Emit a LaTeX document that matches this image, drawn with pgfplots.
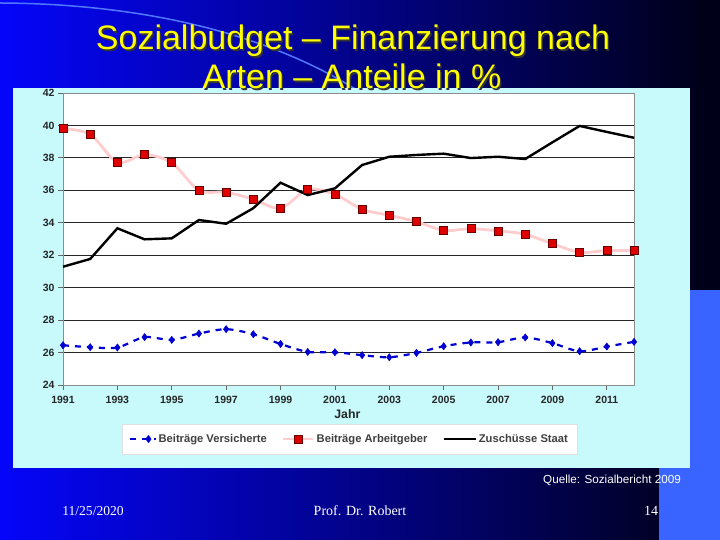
\documentclass[border=0pt]{standalone}
\usepackage{pgfplots}
\pgfplotsset{compat=1.18}
\usepackage{fontspec}
\setmainfont{Liberation Sans}
\newfontfamily\timesfont{Liberation Serif}
\definecolor{bgL}{RGB}{5,5,250}
\definecolor{bgM}{RGB}{0,0,185}
\definecolor{bgR}{RGB}{0,0,20}
\definecolor{chartbg}{RGB}{200,249,251}
\definecolor{lightblk}{RGB}{58,100,255}
\definecolor{ttl}{RGB}{255,255,0}
\definecolor{vblue}{RGB}{0,0,210}
\definecolor{pinkline}{RGB}{255,205,205}
\definecolor{sqred}{RGB}{222,0,0}
\definecolor{arcblue}{RGB}{80,120,255}
\pgfplotsset{
  legimgA/.style={legend image code/.code={\draw[mark repeat=2,mark phase=2,##1] plot coordinates {(0pt,0pt) (18pt,0pt) (25pt,0pt)};}},
  legimgB/.style={legend image code/.code={\draw[mark repeat=2,mark phase=2,##1] plot coordinates {(0pt,0pt) (15pt,0pt) (30pt,0pt)};}},
  legimgC/.style={legend image code/.code={\draw[##1] (0pt,0pt) -- (32pt,0pt);}},
}

\begin{document}
\begin{tikzpicture}
\useasboundingbox (0pt,0pt) rectangle (720pt,540pt);
\shade[left color=bgL, middle color=bgM, right color=bgR] (0pt,0pt) rectangle (720pt,540pt);
\fill[black!90!blue] (695pt,250pt) rectangle (720pt,540pt);
\draw[arcblue, line width=1.5pt] (0pt,537pt) .. controls (180pt,536pt) and (300pt,490pt) .. (372pt,440pt);
\fill[lightblk] (659pt,0pt) rectangle (720pt,250pt);
\fill[chartbg] (13pt,72pt) rectangle (690pt,452pt);

\begin{axis}[
  at={(63pt,155pt)}, anchor=south west,
  scale only axis, width=571pt, height=292pt,
  xmin=1991, xmax=2012, ymin=24, ymax=42,
  xtick={1991,1993,...,2011}, ytick={24,26,...,42},
  ymajorgrids, grid style={black!85, line width=0.8pt},
  axis background/.style={fill=white},
  axis line style={black!45, line width=0.8pt},
  tick align=outside, major tick length=5pt,
  xtick pos=left, ytick pos=left,
  tick style={black!60, line width=0.8pt},
  /pgf/number format/assume math mode=true,
  /pgf/number format/1000 sep={},
  tick label style={font=\bfseries\fontsize{10.5}{12}\selectfont, text=black!85},
  xticklabel style={yshift=-3pt},
  xlabel={Jahr},
  xlabel style={at={(axis description cs:0.498,-0.098)}, anchor=center, font=\bfseries\fontsize{12.3}{14}\selectfont, text=black!85},
  clip=false,
  legend columns=3,
  legend cell align=left,
  legend style={at={(0.502,-0.185)}, anchor=center, draw=black!12, fill=white,
    font=\bfseries\fontsize{11.2}{13}\selectfont, text=black!75,
    inner xsep=7pt, inner ysep=8pt,
    /tikz/every even column/.append style={column sep=13pt}},
]
\addplot[vblue, line width=2.2pt, dash pattern=on 6pt off 6pt, smooth, tension=0.5,
  mark=diamond*, mark size=3.6pt, mark options={solid, fill=vblue, draw=vblue, line width=0.5pt},
  legimgA]
coordinates {(1991,26.45)(1992,26.33)(1993,26.31)(1994,26.95)(1995,26.78)(1996,27.17)(1997,27.44)(1998,27.13)(1999,26.53)(2000,26.04)(2001,26.02)(2002,25.84)(2003,25.71)(2004,25.98)(2005,26.39)(2006,26.62)(2007,26.64)(2008,26.93)(2009,26.58)(2010,26.08)(2011,26.37)(2012,26.66)};
\addlegendentry{Beiträge Versicherte}

\addplot[pinkline, line width=2.8pt, smooth, tension=0.5,
  mark=square*, mark size=4pt, mark options={fill=sqred, draw=black!60!red, line width=0.6pt},
  legimgB]
coordinates {(1991,39.8)(1992,39.45)(1993,37.73)(1994,38.2)(1995,37.7)(1996,36.0)(1997,35.88)(1998,35.45)(1999,34.89)(2000,36.06)(2001,35.75)(2002,34.83)(2003,34.46)(2004,34.07)(2005,33.53)(2006,33.63)(2007,33.5)(2008,33.29)(2009,32.71)(2010,32.18)(2011,32.28)(2012,32.28)};
\addlegendentry{Beiträge Arbeitgeber}

\addplot[black, line width=2.4pt, mark=none, legimgC]
coordinates {(1991,31.29)(1992,31.77)(1993,33.66)(1994,32.98)(1995,33.04)(1996,34.17)(1997,33.94)(1998,34.9)(1999,36.47)(2000,35.71)(2001,36.12)(2002,37.56)(2003,38.07)(2004,38.18)(2005,38.26)(2006,37.99)(2007,38.07)(2008,37.93)(2009,38.96)(2010,39.97)(2011,39.6)(2012,39.24)};
\addlegendentry{Zuschüsse Staat}
\end{axis}

% title
\node[anchor=base, font=\fontsize{34}{40}\selectfont, text=black!80] at (354.5pt,488.5pt) {Sozialbudget – Finanzierung nach};
\node[anchor=base, font=\fontsize{34}{40}\selectfont, text=ttl] at (353pt,490pt) {Sozialbudget – Finanzierung nach};
\node[anchor=base, font=\fontsize{34}{40}\selectfont, text=black!80] at (353.5pt,449.5pt) {Arten – Anteile in \%};
\node[anchor=base, font=\fontsize{34}{40}\selectfont, text=ttl] at (352pt,451pt) {Arten – Anteile in \%};

% source and footer
\node[font=\fontsize{11.7}{13}\selectfont, text=white] at (612pt,60pt) {Quelle: Sozialbericht 2009};
\node[font=\timesfont\fontsize{13.6}{15}\selectfont, text=white] at (93pt,29pt) {11/25/2020};
\node[font=\timesfont\fontsize{14}{16}\selectfont, text=white] at (360pt,29pt) {Prof. Dr. Robert};
\node[font=\timesfont\fontsize{14}{16}\selectfont, text=white] at (651pt,29pt) {14};
\end{tikzpicture}
\end{document}
